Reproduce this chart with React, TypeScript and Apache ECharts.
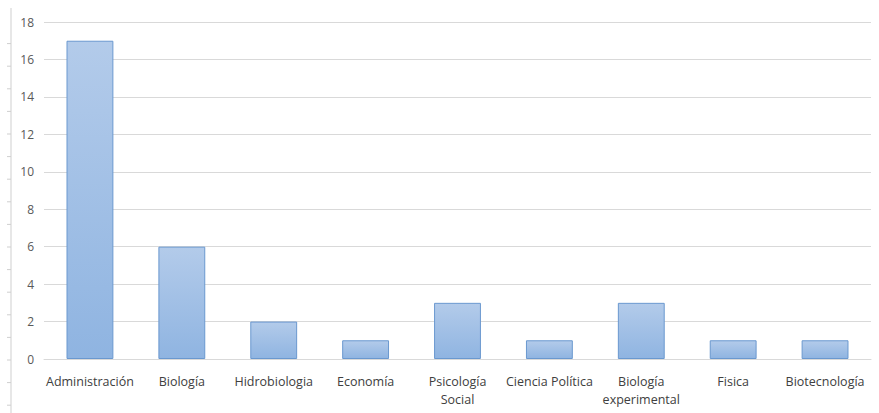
import React, { useEffect, useRef } from "react";
import * as echarts from "echarts";

const categories = [
  "Administración",
  "Biología",
  "Hidrobiologia",
  "Economía",
  "Psicología\nSocial",
  "Ciencia Política",
  "Biología\nexperimental",
  "Fisica",
  "Biotecnología",
];
const values = [17, 6, 2, 1, 3, 1, 3, 1, 1];
const yMin = 0;
const yMax = 18;
const yStep = 2;

export default function App() {
  const ref = useRef<HTMLDivElement>(null);
  useEffect(() => {
    if (!ref.current) return;
    const chart = echarts.init(ref.current, null, { renderer: "svg" });
    const rulerTicks: any[] = [];
    for (let k = -2; k <= 14; k++) {
      const y = 360 - 22.6 * k;
      rulerTicks.push({
        type: "line",
        shape: { x1: 7, y1: y, x2: 11, y2: y },
        style: { stroke: "#cfcfcf", lineWidth: 1 },
        silent: true,
      });
    }
    chart.setOption({
      animation: false,
      backgroundColor: "#ffffff",
      textStyle: { fontFamily: "Open Sans" },
      grid: { left: 44, right: 8, top: 22, bottom: 54, containLabel: false },
      xAxis: {
        type: "category",
        data: categories,
        axisLine: { show: true, lineStyle: { color: "#d9d9d9", width: 1 } },
        axisTick: { show: false },
        axisLabel: {
          color: "#404040",
          fontSize: 12.5,
          fontFamily: "Open Sans",
          interval: 0,
          margin: 13,
          lineHeight: 18,
        },
      },
      yAxis: {
        type: "value",
        min: yMin,
        max: yMax,
        interval: yStep,
        axisLine: { show: false },
        axisTick: { show: false },
        splitLine: { lineStyle: { color: "#d9d9d9", width: 1 } },
        axisLabel: {
          color: "#595959",
          fontSize: 12,
          fontFamily: "Open Sans",
          margin: 10,
        },
      },
      series: [
        {
          type: "bar",
          data: values,
          barWidth: "51%",
          itemStyle: {
            color: new echarts.graphic.LinearGradient(0, 0, 0, 1, [
              { offset: 0, color: "#b3cbea" },
              { offset: 1, color: "#8fb4e1" },
            ]),
            borderColor: "#6a98cf",
            borderWidth: 1,
          },
        },
      ],
      graphic: [
        {
          type: "line",
          shape: { x1: 11, y1: 8, x2: 11, y2: 413 },
          style: { stroke: "#cfcfcf", lineWidth: 1 },
          silent: true,
        },
        ...rulerTicks,
      ],
    });
    return () => chart.dispose();
  }, []);
  return (
    <div
      ref={ref}
      style={{ position: "fixed", left: 0, top: 0, width: 879, height: 413 }}
    />
  );
}
